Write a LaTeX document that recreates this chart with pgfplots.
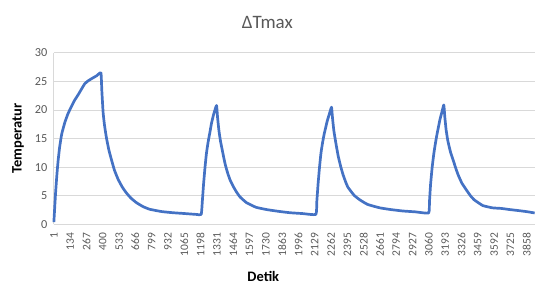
\documentclass[border=0pt]{standalone}
\usepackage{fontspec}
\setmainfont{Carlito}
\usepackage{pgfplots}
\pgfplotsset{compat=1.18}
\definecolor{exblue}{HTML}{4472C4}
\definecolor{txtgray}{HTML}{595959}
\definecolor{gridgray}{HTML}{D9D9D9}
\begin{document}
\begin{tikzpicture}
\begin{axis}[
  width=482pt, height=172pt, scale only axis,
  xmin=1, xmax=3923, ymin=0, ymax=30,
  ytick={0,5,...,30},
  xtick={1,134,...,3858},
  x tick label style={rotate=90, anchor=east, font=\fontsize{11.5}{12}\selectfont, text=txtgray},
  y tick label style={font=\fontsize{12.3}{13}\selectfont, text=txtgray},
  xticklabel shift=5pt,
  yticklabel shift=3pt,
  /pgf/number format/assume math mode=true,
  /pgf/number format/1000 sep={},
  axis x line*=bottom, axis y line*=left,
  axis line style={gridgray, line width=0.8pt},
  major tick length=5pt,
  tick style={gridgray, line width=0.8pt},
  xtick style={draw=none},
  ymajorgrids, grid style={gridgray, line width=0.8pt},
  clip=false,
]
\coordinate (sw) at (rel axis cs:0,0);
\addplot[exblue, line width=2.7pt, line join=round, smooth, tension=0.25] coordinates {
(1,0.4) (8,3) (15,5.5) (25,8.5) (35,11) (48,13.5) (65,15.8) (90,17.8) (115,19.3) (137,20.3) (170,21.7) (200,22.7) (230,23.8) (253,24.6) (280,25.1) (310,25.5) (350,26) (385,26.5)
(392,23.5) (403,19.5) (415,17.2) (431,15.0) (450,13) (471,11.3) (495,9.5) (525,7.9) (560,6.5) (593,5.5) (630,4.6) (675,3.8) (730,3.1) (783,2.65) (880,2.25) (971,2.05) (1070,1.9) (1164,1.75) (1203,1.75)
(1212,4) (1222,7) (1234,10) (1246,12.5) (1260,14.5) (1273,16) (1287,17.7) (1305,19.3) (1328,20.8)
(1336,18.8) (1347,16.5) (1360,14.6) (1382,12.2) (1400,10.4) (1420,8.9) (1440,7.7) (1463,6.7) (1490,5.7) (1520,4.8) (1573,3.8) (1650,3.0) (1736,2.6) (1830,2.3) (1926,2.05) (2030,1.9) (2138,1.75)
(2146,4) (2156,7) (2168,10) (2180,12.5) (2193,14.3) (2205,15.7) (2230,18) (2248,19.3) (2266,20.5)
(2274,18.6) (2285,16.4) (2300,14.4) (2320,12) (2340,10.2) (2360,8.7) (2380,7.5) (2400,6.5) (2450,5.1) (2497,4.3) (2560,3.5) (2660,2.9) (2750,2.6) (2848,2.35) (2950,2.2) (3058,2.0)
(3065,4) (3074,7) (3087,10) (3100,12.3) (3112,14) (3125,15.6) (3150,18.3) (3166,19.6) (3182,20.9)
(3190,18.8) (3201,16.5) (3215,14.6) (3236,12.7) (3256,11.4) (3280,9.8) (3300,8.6) (3330,7.2) (3367,6.0) (3400,5.0) (3430,4.3) (3500,3.3) (3580,2.9) (3650,2.8) (3720,2.6) (3800,2.4) (3870,2.2) (3923,2.0)
};
\end{axis}
\useasboundingbox ([shift={(-54pt,-61pt)}]sw) rectangle ([shift={(482pt,225pt)}]sw);
\node[font=\fontsize{19}{21}\selectfont, text=txtgray] at ([shift={(214pt,202pt)}]sw) {ΔTmax};
\node[font=\bfseries\fontsize{14.5}{16}\selectfont, rotate=90] at ([shift={(-36pt,86pt)}]sw) {Temperatur};
\node[font=\bfseries\fontsize{14.5}{16}\selectfont] at ([shift={(210pt,-52pt)}]sw) {Detik};
\end{tikzpicture}
\end{document}
